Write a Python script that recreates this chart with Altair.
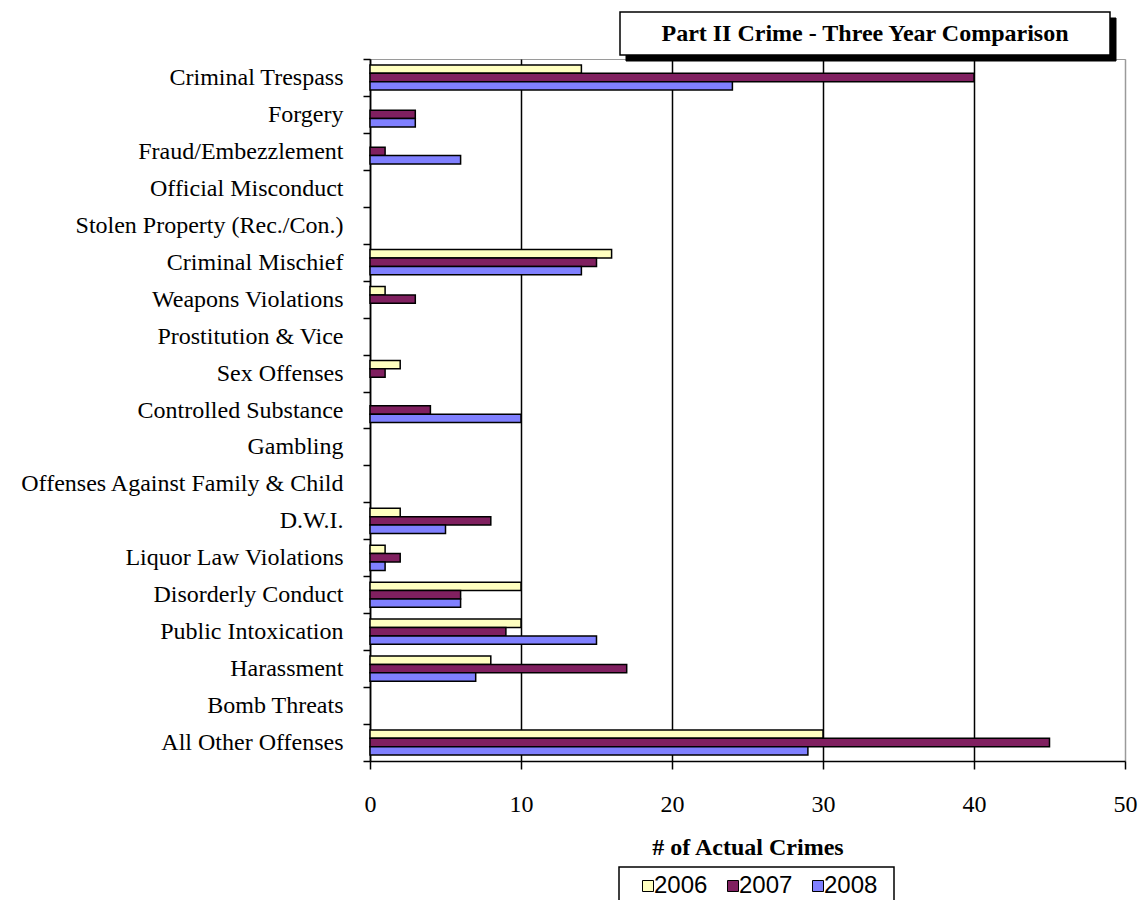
import altair as alt
import pandas as pd

categories = [
    "Criminal Trespass", "Forgery", "Fraud/Embezzlement", "Official Misconduct",
    "Stolen Property (Rec./Con.)", "Criminal Mischief", "Weapons Violations",
    "Prostitution & Vice", "Sex Offenses", "Controlled Substance", "Gambling",
    "Offenses Against Family & Child", "D.W.I.", "Liquor Law Violations",
    "Disorderly Conduct", "Public Intoxication", "Harassment", "Bomb Threats",
    "All Other Offenses",
]
v2006 = [14, 0, 0, 0, 0, 16, 1, 0, 2, 0, 0, 0, 2, 1, 10, 10, 8, 0, 30]
v2007 = [40, 3, 1, 0, 0, 15, 3, 0, 1, 4, 0, 0, 8, 2, 6, 9, 17, 0, 45]
v2008 = [24, 3, 6, 0, 0, 14, 0, 0, 0, 10, 0, 0, 5, 1, 6, 15, 7, 0, 29]
years = ["2006", "2007", "2008"]
colors = ["#FFFFC0", "#802060", "#8080FF"]
x_ticks = [0, 10, 20, 30, 40, 50]
chart_title = "Part II Crime - Three Year Comparison"
x_title = "# of Actual Crimes"

rows = []
for yr, vals in zip(years, [v2006, v2007, v2008]):
    for cat, v in zip(categories, vals):
        rows.append({"category": cat, "year": yr, "value": v})
df = pd.DataFrame(rows)

SERIF = "Liberation Serif"

bars = (
    alt.Chart(df)
    .transform_filter("datum.value > 0")
    .mark_bar(stroke="black", strokeWidth=1.5)
    .encode(
        x=alt.X(
            "value:Q",
            scale=alt.Scale(domain=[0, 50], nice=False),
            axis=alt.Axis(
                values=x_ticks,
                title=x_title,
                grid=True,
                gridColor={"condition": {"test": "datum.value === 50", "value": "#9a9a9a"}, "value": "black"},
                gridWidth=1.5,
                domainColor="black",
                domainWidth=1.5,
                tickColor="black",
                tickWidth=1.5,
                tickSize=8,
                labelFont=SERIF,
                labelFontSize=24,
                labelColor="black",
                labelPadding=23,
                labelFlush=False,
                labelOverlap=False,
                titleFont=SERIF,
                titleFontSize=24,
                titleFontWeight="bold",
                titleColor="black",
                titlePadding=19,
            ),
        ),
        y=alt.Y(
            "category:N",
            sort=categories,
            scale=alt.Scale(domain=categories, paddingInner=0, paddingOuter=0),
            axis=alt.Axis(
                title=None,
                tickBand="extent",
                domainColor="black",
                domainWidth=1.5,
                tickColor="black",
                tickWidth=1.5,
                tickSize=7,
                labelFont=SERIF,
                labelFontSize=24,
                labelColor="black",
                labelPadding=20,
                labelLimit=420,
                grid=False,
            ),
        ),
        yOffset=alt.YOffset(
            "year:N",
            sort=years,
            scale=alt.Scale(domain=years, paddingInner=0, paddingOuter=0.7),
        ),
        color=alt.Color(
            "year:N",
            sort=years,
            scale=alt.Scale(domain=years, range=colors),
            legend=alt.Legend(
                title=None,
                orient="none",
                direction="horizontal",
                legendX=266,
                legendY=815,
                padding=0,
                symbolType="square",
                symbolSize=121,
                symbolStrokeColor="black",
                symbolStrokeWidth=1,
                symbolOpacity=1,
                labelFont="Liberation Sans",
                labelFontSize=24,
                labelColor="black",
                labelOffset={"expr": "-6"},
                columnPadding=13,
            ),
        ),
    )
)

one = alt.Data(values=[{"k": 1}])

shadow = alt.Chart(one).mark_rect(fill="black", stroke="black").encode(
    x=alt.value(256), x2=alt.value(746), y=alt.value(-41), y2=alt.value(2)
)
box = alt.Chart(one).mark_rect(fill="white", stroke="black", strokeWidth=1.5).encode(
    x=alt.value(250), x2=alt.value(740), y=alt.value(-47), y2=alt.value(-4)
)
title_text = alt.Chart(one).mark_text(
    font=SERIF, fontSize=24, fontWeight="bold", color="black", baseline="middle", align="center"
).encode(x=alt.value(495), y=alt.value(-25), text=alt.value(chart_title))

legend_box = alt.Chart(one).mark_rect(fill="white", stroke="black", strokeWidth=1.5).encode(
    x=alt.value(249), x2=alt.value(524), y=alt.value(808), y2=alt.value(870)
)

chart = (
    alt.layer(legend_box, bars, shadow, box, title_text)
    .properties(
        width=755,
        height=702,
        autosize=alt.AutoSizeParams(type="none"),
        padding={"left": 362, "top": 51, "right": 13, "bottom": 139},
        background="white",
    )
    .configure_view(stroke="#9a9a9a", strokeWidth=1)
)

chart.save("out.html", embed_options={"renderer": "svg", "actions": False})
